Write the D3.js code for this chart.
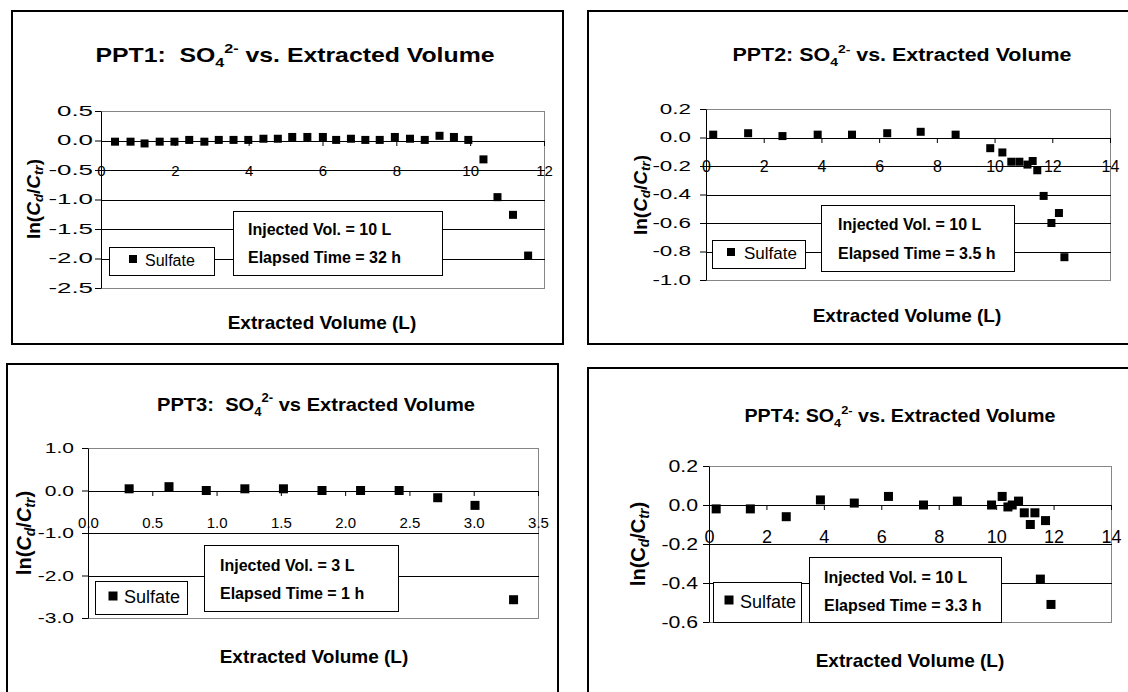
<!DOCTYPE html>
<html>
<head>
<meta charset="utf-8">
<script src="https://cdn.jsdelivr.net/npm/d3@7"></script>
<style>
  body { margin: 0; background: #fff; }
  svg { display: block; }
  text { white-space: pre; }
</style>
</head>
<body>
<div id="chart"></div>
<script>
// ---- data ----
const p1X = [0.38, 0.80, 1.18, 1.59, 1.99, 2.39, 2.80, 3.19, 3.59, 3.99, 4.40, 4.79, 5.18, 5.59, 6.01,
             6.37, 6.77, 7.16, 7.55, 7.96, 8.37, 8.77, 9.17, 9.56, 9.95, 10.36, 10.74, 11.16, 11.57];
const p1Y = [-0.02, -0.02, -0.05, -0.02, -0.02, 0.01, -0.02, 0.01, 0.01, 0.01, 0.03, 0.03, 0.06, 0.06, 0.06,
             0.01, 0.03, 0.01, 0.01, 0.06, 0.03, 0.01, 0.08, 0.06, 0.01, -0.32, -0.96, -1.26, -1.95];

const p2X = [0.25, 1.46, 2.65, 3.87, 5.06, 6.28, 7.44, 8.65, 9.85, 10.27, 10.58, 10.86, 11.14, 11.32,
             11.48, 11.70, 11.97, 12.23, 12.42];
const p2Y = [0.02, 0.03, 0.01, 0.02, 0.02, 0.03, 0.04, 0.02, -0.075, -0.105, -0.17, -0.17, -0.19, -0.165,
             -0.23, -0.41, -0.60, -0.53, -0.84];

const p3X = [0.32, 0.63, 0.92, 1.22, 1.52, 1.82, 2.12, 2.42, 2.72, 3.01, 3.31];
const p3Y = [0.04, 0.09, 0.0, 0.04, 0.04, 0.0, 0.0, 0.0, -0.17, -0.35, -2.57];

const p4X = [0.25, 1.44, 2.69, 3.88, 5.06, 6.25, 7.47, 8.65, 9.84, 10.21, 10.41, 10.56, 10.78, 10.98,
             11.19, 11.35, 11.54, 11.72, 11.91];
const p4Y = [-0.02, -0.02, -0.06, 0.026, 0.01, 0.044, 0.0, 0.02, 0.0, 0.044, -0.01, 0.0, 0.02, -0.04,
             -0.10, -0.04, -0.38, -0.08, -0.51];

const p1XTicks = [0, 2, 4, 6, 8, 10, 12];
const p1YTicks = [-2.5, -2.0, -1.5, -1.0, -0.5, 0.0, 0.5];
const p2XTicks = [0, 2, 4, 6, 8, 10, 12, 14];
const p2YTicks = [-1.0, -0.8, -0.6, -0.4, -0.2, 0.0, 0.2];
const p3XTicks = [0, 0.5, 1.0, 1.5, 2.0, 2.5, 3.0, 3.5];
const p3YTicks = [-3.0, -2.0, -1.0, 0.0, 1.0];
const p4XTicks = [0, 2, 4, 6, 8, 10, 12, 14];
const p4YTicks = [-0.6, -0.4, -0.2, 0.0, 0.2];

const titleParts = [
  ["PPT1:  SO", "4", "2-", " vs. Extracted Volume"],
  ["PPT2: SO", "4", "2-", " vs. Extracted Volume"],
  ["PPT3:  SO", "4", "2-", " vs Extracted Volume"],
  ["PPT4: SO", "4", "2-", " vs. Extracted Volume"]
];
const notes = [
  ["Injected Vol. = 10 L", "Elapsed Time = 32 h"],
  ["Injected Vol. = 10 L", "Elapsed Time = 3.5 h"],
  ["Injected Vol. = 3 L", "Elapsed Time = 1 h"],
  ["Injected Vol. = 10 L", "Elapsed Time = 3.3 h"]
];
const seriesName = "Sulfate";
const xTitle = "Extracted Volume (L)";

// ---- layout ----
const FONT = "'Liberation Sans', Arial, sans-serif";
const W = 1128, H = 692;

const panels = [
  { xs: p1X, ys: p1Y, xTicks: p1XTicks, yTicks: p1YTicks, xFmt: d => String(d),
    frame: [12, 11, 563, 344], plot: [101, 544, 111, 288],
    yTickSize: 14, yStretch: 1.85, yPad: 2, xTickSize: 15, xLabOff: 30,
    title: { x: 295, y: 62, size: 21, len: 399 }, xt: { x: 322, y: 329, size: 19 },
    yt: { x: 33, y: 199, size: 19, italicC: true },
    legend: { x: 109, y: 247, w: 105, h: 28, mx: 133, my: 259, tx: 145, ty: 266, size: 16 },
    note: { x: 233, y: 211, w: 209, h: 64, tx: 248, ty: [235, 263], size: 16 }, m: 8 },
  { xs: p2X, ys: p2Y, xTicks: p2XTicks, yTicks: p2YTicks, xFmt: d => String(d),
    frame: [588, 11, 1140, 344], plot: [706, 1110, 109, 280],
    yTickSize: 14, yStretch: 1.6, yPad: 9, xTickSize: 16, xLabOff: 28,
    title: { x: 902, y: 61, size: 18, len: 339 }, xt: { x: 907, y: 322, size: 19 },
    yt: { x: 640, y: 195, size: 19, italicC: true },
    legend: { x: 712, y: 240, w: 93, h: 28, mx: 731, my: 252, tx: 744, ty: 259, size: 17 },
    note: { x: 821, y: 205, w: 193, h: 66, tx: 838, ty: [230, 259], size: 16 }, m: 8 },
  { xs: p3X, ys: p3Y, xTicks: p3XTicks, yTicks: p3YTicks, xFmt: d => d.toFixed(1),
    frame: [7, 364, 558, 700], plot: [88, 538, 448, 618],
    yTickSize: 15, yStretch: 1.4, yPad: 8, xTickSize: 15, xLabOff: 32,
    title: { x: 316, y: 411, size: 19, len: 318 }, xt: { x: 314, y: 663, size: 19 },
    yt: { x: 24, y: 533, size: 20, italicC: true },
    legend: { x: 95, y: 581, w: 92, h: 33, mx: 113, my: 596, tx: 124, ty: 603, size: 18 },
    note: { x: 204, y: 545, w: 194, h: 66, tx: 220, ty: [571, 599], size: 16 }, m: 9 },
  { xs: p4X, ys: p4Y, xTicks: p4XTicks, yTicks: p4YTicks, xFmt: d => String(d),
    frame: [588, 368, 1140, 700], plot: [709, 1111, 466, 622],
    yTickSize: 17, yStretch: 1.25, yPad: 5, xTickSize: 18, xLabOff: 32,
    title: { x: 900, y: 422, size: 18, len: 311 }, xt: { x: 910, y: 667, size: 19 },
    yt: { x: 638, y: 544, size: 20, italicC: false },
    legend: { x: 713, y: 582, w: 88, h: 40, mx: 729, my: 600, tx: 740, ty: 608, size: 18 },
    note: { x: 809, y: 557, w: 192, h: 65, tx: 824, ty: [583, 611], size: 16 }, m: 9 }
];

const svg = d3.select("#chart").append("svg")
  .attr("width", W).attr("height", H)
  .attr("viewBox", [0, 0, W, H])
  .attr("font-family", FONT);

svg.append("rect").attr("width", W).attr("height", H).attr("fill", "#fff");

// widen text horizontally (the source picture was stretched)
function stretch(sel, k) {
  sel.each(function () {
    const w = this.getComputedTextLength();
    d3.select(this).attr("textLength", w * k).attr("lengthAdjust", "spacingAndGlyphs");
  });
}

function drawPanel(c, i) {
  const g = svg.append("g");

  g.append("rect")
    .attr("x", c.frame[0]).attr("y", c.frame[1])
    .attr("width", c.frame[2] - c.frame[0]).attr("height", c.frame[3] - c.frame[1])
    .attr("fill", "#fff").attr("stroke", "#000").attr("stroke-width", 2);

  const x = d3.scaleLinear([c.xTicks[0], c.xTicks[c.xTicks.length - 1]], [c.plot[0], c.plot[1]]);
  const y = d3.scaleLinear([c.yTicks[0], c.yTicks[c.yTicks.length - 1]], [c.plot[3], c.plot[2]]);

  // plot area border (grey)
  g.append("rect")
    .attr("x", c.plot[0] + 0.5).attr("y", c.plot[2] + 0.5)
    .attr("width", c.plot[1] - c.plot[0]).attr("height", c.plot[3] - c.plot[2])
    .attr("fill", "none").attr("stroke", "#868686");

  // gridlines
  g.append("g").selectAll("line")
    .data(c.yTicks.slice(1, -1))
    .join("line")
      .attr("x1", c.plot[0]).attr("x2", c.plot[1] + 1)
      .attr("y1", d => Math.round(y(d)) + 0.5).attr("y2", d => Math.round(y(d)) + 0.5)
      .attr("stroke", "#000");

  // y axis
  const ya = g.append("g")
    .attr("transform", `translate(${c.plot[0]},0)`)
    .call(d3.axisLeft(y).tickValues(c.yTicks).tickFormat(d => d.toFixed(1))
      .tickSize(6).tickSizeOuter(0).tickPadding(c.yPad));
  ya.attr("font-family", FONT).attr("font-size", c.yTickSize);
  ya.selectAll("text").attr("fill", "#000");
  ya.selectAll("line, path").attr("stroke", "#000");
  stretch(ya.selectAll("text"), c.yStretch);

  // x axis sits on y = 0, labels hang below it
  const xa = g.append("g")
    .attr("transform", `translate(0,${Math.round(y(0))})`)
    .call(d3.axisBottom(x).tickValues(c.xTicks).tickFormat(c.xFmt).tickSize(5).tickSizeOuter(0));
  xa.attr("font-family", FONT).attr("font-size", c.xTickSize);
  xa.selectAll("text").attr("fill", "#000").attr("y", c.xLabOff).attr("dy", "0.35em");
  xa.selectAll("line, path").attr("stroke", "#000");

  // title
  const t = c.title, parts = titleParts[i];
  const tt = g.append("text")
    .attr("x", t.x).attr("y", t.y).attr("text-anchor", "middle")
    .attr("font-weight", "bold").attr("font-size", t.size);
  tt.append("tspan").text(parts[0]);
  tt.append("tspan").attr("font-size", t.size * 0.65).attr("dy", t.size * 0.25).text(parts[1]);
  tt.append("tspan").attr("font-size", t.size * 0.65).attr("dy", -t.size * 0.7).text(parts[2]);
  tt.append("tspan").attr("dy", t.size * 0.45).text(parts[3]);
  tt.attr("textLength", t.len).attr("lengthAdjust", "spacingAndGlyphs");

  // axis titles
  g.append("text")
    .attr("x", c.xt.x).attr("y", c.xt.y).attr("text-anchor", "middle")
    .attr("font-weight", "bold").attr("font-size", c.xt.size)
    .text(xTitle);

  const s = c.yt.size;
  const yl = g.append("text")
    .attr("transform", `translate(${c.yt.x + s * 0.35},${c.yt.y}) rotate(-90)`)
    .attr("text-anchor", "middle").attr("font-weight", "bold").attr("font-size", s);
  const cStyle = c.yt.italicC ? "italic" : "normal";
  yl.append("tspan").text("ln(");
  yl.append("tspan").attr("font-style", cStyle).text("C");
  yl.append("tspan").attr("font-style", "italic").attr("font-size", s * 0.7).attr("dy", s * 0.2).text("d");
  yl.append("tspan").attr("dy", -s * 0.2).text("/");
  yl.append("tspan").attr("font-style", cStyle).text("C");
  yl.append("tspan").attr("font-style", "italic").attr("font-size", s * 0.7).attr("dy", s * 0.2).text("tr");
  yl.append("tspan").attr("dy", -s * 0.2).text(")");

  // legend box
  const L = c.legend;
  g.append("rect").attr("x", L.x + 0.5).attr("y", L.y + 0.5).attr("width", L.w).attr("height", L.h)
    .attr("fill", "#fff").attr("stroke", "#000");
  g.append("rect").attr("x", L.mx - c.m / 2).attr("y", L.my - c.m / 2)
    .attr("width", c.m).attr("height", c.m).attr("fill", "#000");
  g.append("text").attr("x", L.tx).attr("y", L.ty).attr("font-size", L.size).text(seriesName);

  // note box
  const N = c.note;
  g.append("rect").attr("x", N.x + 0.5).attr("y", N.y + 0.5).attr("width", N.w).attr("height", N.h)
    .attr("fill", "#fff").attr("stroke", "#000");
  g.append("g").selectAll("text")
    .data(notes[i])
    .join("text")
      .attr("x", N.tx).attr("y", (d, j) => N.ty[j])
      .attr("font-weight", "bold").attr("font-size", N.size)
      .text(d => d);

  // points
  g.append("g").selectAll("rect")
    .data(d3.range(c.xs.length))
    .join("rect")
      .attr("x", j => x(c.xs[j]) - c.m / 2)
      .attr("y", j => y(c.ys[j]) - c.m / 2)
      .attr("width", c.m).attr("height", c.m)
      .attr("fill", "#000");
}

panels.forEach(drawPanel);
</script>
</body>
</html>
